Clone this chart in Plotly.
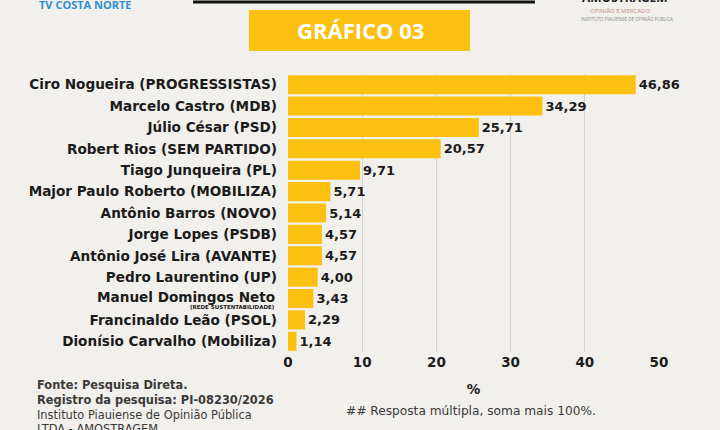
import plotly.graph_objects as go

candidates = [
    "Ciro Nogueira (PROGRESSISTAS)",
    "Marcelo Castro (MDB)",
    "Júlio César (PSD)",
    "Robert Rios (SEM PARTIDO)",
    "Tiago Junqueira (PL)",
    "Major Paulo Roberto (MOBILIZA)",
    "Antônio Barros (NOVO)",
    "Jorge Lopes (PSDB)",
    "Antônio José Lira (AVANTE)",
    "Pedro Laurentino (UP)",
    "Manuel Domingos Neto",
    "Francinaldo Leão (PSOL)",
    "Dionísio Carvalho (Mobiliza)",
]
label_notes = {"Manuel Domingos Neto": "(REDE SUSTENTABILIDADE)"}
values = [46.86, 34.29, 25.71, 20.57, 9.71, 5.71, 5.14, 4.57, 4.57, 4.00, 3.43, 2.29, 1.14]
x_ticks = [0, 10, 20, 30, 40, 50]

BG = "#f2f0ec"
YELLOW = "#fcc010"
FONT = "Open Sans"
LFONT = "DejaVu Sans"
INK = "#1b1b1b"
GREY_INK = "#3a3a3a"

fig = go.Figure()
fig.add_trace(go.Bar(
    y=candidates, x=values, orientation="h",
    marker=dict(color=YELLOW, line=dict(width=0)),
    texttemplate="<b>%{x:.2f}</b>", textposition="outside",
    textfont=dict(family=LFONT, size=13, color=INK),
    cliponaxis=False, hoverinfo="skip",
))

ticktext = ["" if c in label_notes else f"<b>{c}</b>" for c in candidates]

fig.update_layout(
    width=720, height=430,
    margin=dict(l=288, r=61, t=74, b=78),
    paper_bgcolor=BG, plot_bgcolor=BG,
    separators=",.",
    bargap=0.11,
    showlegend=False,
    font=dict(family=FONT, color=INK),
    xaxis=dict(
        range=[0, 50], tickvals=x_ticks,
        ticktext=[f"<b>{t}</b>" for t in x_ticks],
        tickfont=dict(family=LFONT, size=13.5, color=INK),
        showgrid=True, gridcolor="#d4d2ce", gridwidth=1,
        zeroline=False, showline=False, ticks="",
        title=dict(text="<b>%</b>", font=dict(family=LFONT, size=13.5, color=INK), standoff=16),
    ),
    yaxis=dict(
        categoryorder="array", categoryarray=candidates, autorange="reversed",
        tickvals=candidates, ticktext=ticktext,
        tickfont=dict(family=LFONT, size=13.6, color=INK),
        showgrid=False, zeroline=False, showline=False, ticks="",
        ticklabelstandoff=10,
    ),
)

def px(x):
    return (x - 288) / 371.0
def py(y):
    return (430 - 78 - y) / 278.0

fig.add_shape(type="line", xref="paper", yref="paper", x0=px(193), x1=px(535), y0=py(2), y1=py(2),
              line=dict(color="#111111", width=3))
fig.add_shape(type="rect", xref="paper", yref="paper", x0=px(249), x1=px(470), y0=py(51), y1=py(10),
              fillcolor=YELLOW, line=dict(width=0), layer="below")

annotations = [
    dict(text="<b>GRÁFICO 03</b>", x=px(360), y=py(30), font=dict(family=FONT, size=22, color="white")),
    dict(text="<b>TV COSTA NORTE</b>", x=px(37), y=py(4), xanchor="left",
         font=dict(family=FONT, size=11, color="#2f8fd3")),
    dict(text="<b>AMOSTRAGEM</b>", x=px(625), y=py(-2), font=dict(family=FONT, size=12, color="#222222")),
    dict(text="OPINIÃO E MERCADO", x=px(620), y=py(11), font=dict(family=FONT, size=6, color="#c98a8a")),
    dict(text="INSTITUTO PIAUIENSE DE OPINIÃO PÚBLICA", x=px(627), y=py(19),
         font=dict(family=FONT, size=4.5, color="#888888")),
    dict(text=("<b>Fonte: Pesquisa Direta.</b><br>"
               "<b>Registro da pesquisa: PI-08230/2026</b><br>"
               "Instituto Piauiense de Opinião Pública<br>"
               "LTDA - AMOSTRAGEM"),
         x=px(35), y=py(376), xanchor="left", yanchor="top", align="left",
         font=dict(family=LFONT, size=11.4, color=GREY_INK)),
    dict(text="## Resposta múltipla, soma mais 100%.", x=px(344), y=py(411), xanchor="left",
         font=dict(family=LFONT, size=12.2, color=GREY_INK)),
]
for a in annotations:
    a.update(xref="paper", yref="paper", showarrow=False)
    a.setdefault("yanchor", "middle")
    a.setdefault("xanchor", "center")

for c, note in label_notes.items():
    annotations.append(dict(text=f"<b>{c}</b>", xref="paper", yref="y", x=px(277), y=c,
                            xanchor="right", yanchor="middle", yshift=2, showarrow=False,
                            font=dict(family=LFONT, size=13.6, color=INK)))
    annotations.append(dict(text=f"<b>{note}</b>", xref="paper", yref="y", x=px(277), y=c,
                            xanchor="right", yanchor="middle", yshift=-8, showarrow=False,
                            font=dict(family=LFONT, size=5.5, color=INK)))
fig.update_layout(annotations=annotations)

fig.write_html("out.html")
